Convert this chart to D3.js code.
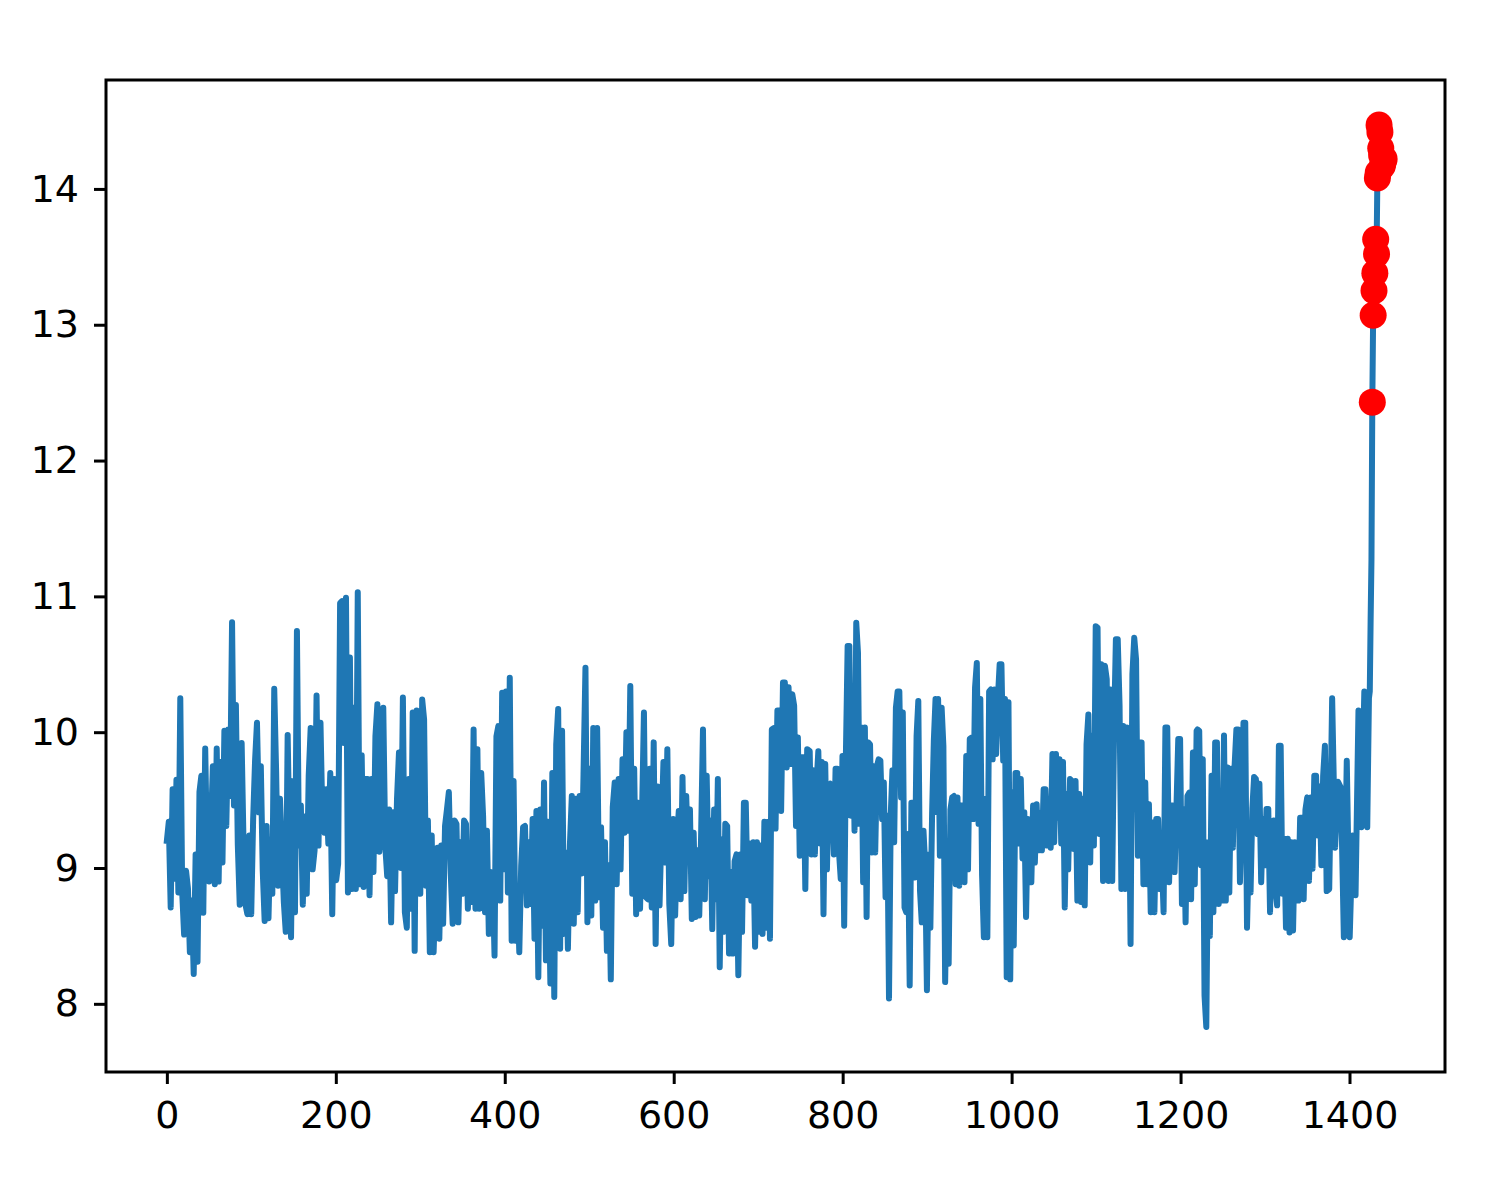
<!DOCTYPE html>
<html>
<head>
<meta charset="utf-8">
<script src="https://cdn.jsdelivr.net/npm/d3@7"></script>
<style>
  body { margin: 0; background: #fff; }
  text { font-family: "DejaVu Sans", sans-serif; }
</style>
</head>
<body>
<svg id="chart" width="1501" height="1180"></svg>
<script>
// values, block by block (each block spread over its time span)
const segA = [9.2, 9.34, 8.71, 9.58, 8.92, 9.65, 8.82, 10.25, 8.82, 8.51, 8.98, 8.85, 8.38, 8.76, 8.22, 9.1, 8.31, 9.56, 9.68, 8.67, 9.88, 9.07, 8.9, 9.31, 9.75, 8.88, 9.88, 8.9, 9.78, 9.04, 10.01, 9.31, 10.02, 9.53, 10.81, 9.46, 10.2, 9.17, 8.73, 9.92, 9.17, 8.73, 8.66, 9.24, 8.66, 9.36, 9.79, 10.07, 9.41, 9.75, 8.98, 8.61, 9.31, 8.63, 9.21, 8.81, 10.32, 9.7, 8.87, 9.51, 9.12, 8.75, 8.53, 9.98];
const segB = [8.49, 9.64, 8.675, 10.745, 9.165, 9.46, 8.73, 9.38, 8.81, 9.68, 10.03, 8.99, 9.13, 10.27, 9.165, 10.07, 9.34, 9.26, 9.58, 9.18, 9.7, 8.66, 9.655, 8.91, 9.03, 10.95, 10.965, 9.92, 10.99, 8.82, 10.55, 8.845, 10.18, 8.845, 11.03, 8.88, 9.83, 8.86, 9.655, 9.655, 8.8, 9.655, 8.97, 9.97, 10.205, 9.12, 9.46, 10.18, 9.165, 8.94, 9.43, 8.6, 9.41, 8.83, 9.51, 9.85, 9.0, 10.255, 8.675, 8.56, 9.655, 8.7, 10.145, 8.39, 10.16, 9.36];
const segC = [8.81, 10.24, 10.095, 8.87, 9.35, 8.38, 9.24, 8.38, 8.82, 9.15, 8.48, 9.165, 8.59, 9.31, 9.43, 9.56, 8.96, 8.59, 9.35, 9.325, 8.6, 9.19, 8.81, 9.35, 9.325, 8.7, 9.18, 8.75, 10.02, 8.7, 9.875, 8.7, 9.7, 9.38, 8.675, 9.275, 8.515, 8.97, 8.94, 8.355, 9.97, 10.045, 8.76, 10.29, 8.99, 10.3, 8.82, 10.4, 8.465, 9.64, 8.465, 8.87, 8.38, 9.02, 9.3, 9.31, 8.725, 9.19, 8.735, 9.36, 8.48, 9.42, 8.195, 9.43, 8.575, 9.63, 8.32, 9.34];
const segD = [8.15, 9.7, 8.05, 9.91, 10.17, 8.405, 10.01, 8.515, 9.115, 8.405, 9.165, 9.53, 8.59, 9.51, 8.675, 9.53, 8.96, 9.69, 10.475, 8.6, 9.73, 8.65, 10.03, 8.76, 10.03, 8.785, 9.3, 8.56, 9.19, 8.39, 9.02, 8.18, 9.45, 9.63, 8.88, 9.655, 8.99, 9.8, 9.26, 10.0, 9.275, 10.34, 8.81, 9.73, 8.66, 9.48, 8.7, 9.38, 10.145, 8.785, 8.77, 9.73, 8.71, 9.925, 8.44, 9.6, 8.725, 9.29, 9.78, 9.04, 9.875, 8.735, 8.44, 9.36, 8.65, 9.21];
const segE = [9.42, 8.77, 9.67, 8.83, 9.53, 9.09, 9.43, 8.625, 9.26, 8.64, 9.13, 8.65, 9.24, 10.02, 8.77, 9.68, 8.94, 9.35, 8.55, 9.43, 8.77, 9.655, 8.27, 9.21, 8.53, 9.325, 9.31, 8.37, 8.97, 8.37, 9.05, 9.1, 8.21, 9.1, 8.53, 9.48, 9.48, 8.8, 9.18, 8.76, 9.19, 8.42, 9.19, 8.53, 9.165, 8.515, 9.34, 8.56, 9.34, 8.48, 10.02, 10.03, 9.29, 10.16, 10.16, 9.42, 10.365, 10.365, 9.74, 10.33, 9.765, 10.28, 10.195, 9.31, 9.96, 9.09, 9.815, 9.815, 8.845, 9.875];
const segF = [9.86, 9.1, 9.72, 9.1, 9.63, 9.86, 9.18, 9.78, 8.66, 9.765, 8.99, 9.605, 9.62, 9.53, 9.1, 9.73, 9.73, 9.115, 8.92, 9.825, 8.575, 9.84, 10.635, 10.635, 9.385, 10.12, 9.275, 10.805, 10.585, 9.325, 10.035, 8.895, 10.035, 8.64, 9.925, 9.91, 9.115, 9.75, 9.115, 9.75, 9.8, 9.79, 9.36, 9.63, 8.785, 9.385, 8.04, 9.385, 9.72, 9.19, 10.18, 10.3, 10.3, 9.52, 10.145, 8.71, 8.675, 9.25, 8.135, 9.48, 9.48, 8.93, 9.97, 10.23, 8.83, 8.6, 9.275, 9.02, 8.1, 9.1, 8.56, 9.4, 9.935, 10.245, 9.41];
const segG = [10.245, 9.09, 10.18, 9.9, 8.16, 9.05, 8.295, 9.43, 9.52, 9.53, 8.88, 9.52, 8.87, 9.46, 9.46, 8.895, 9.825, 8.99, 9.95, 9.96, 9.36, 10.33, 10.51, 9.325, 10.245, 8.945, 8.49, 9.51, 8.49, 10.3, 10.315, 9.8, 10.315, 9.84, 10.255, 10.5, 10.5, 9.79, 10.245, 8.195, 10.22, 8.18, 9.56, 8.43, 9.7, 9.7, 9.18, 9.655, 9.07, 9.41, 8.64, 9.36, 9.2, 8.895, 9.46, 9.04, 9.47, 9.13, 9.4, 9.13, 9.58, 9.58, 9.165, 9.48, 9.15, 9.84, 9.19, 9.84, 9.37, 9.8, 9.18, 9.78, 8.71, 9.545];
const segH = [8.99, 9.655, 9.64, 9.14, 9.64, 8.76, 9.545, 8.75, 9.51, 8.725, 9.91, 10.13, 9.04, 9.975, 9.165, 10.78, 10.77, 9.25, 10.5, 8.905, 10.49, 10.39, 8.905, 10.315, 8.905, 10.02, 10.685, 10.685, 10.195, 8.845, 10.045, 8.845, 10.035, 9.875, 8.44, 10.425, 10.695, 10.535, 9.09, 9.925, 9.925, 8.88, 9.63, 8.88, 9.47, 8.675, 9.335, 8.675, 9.36, 9.36, 8.845, 9.09, 8.675, 10.035, 10.035, 8.895, 9.46, 9.46, 8.97, 9.435, 9.95, 9.95, 8.735, 9.435, 8.6, 9.53, 9.555, 8.77, 9.85, 8.88, 10.01];
const segI = [10.02, 10.01, 9.02, 9.8, 8.06, 7.83, 9.19, 8.5, 9.68, 8.675, 9.925, 9.925, 8.735, 9.225, 8.76, 9.975, 8.76, 9.74, 8.82, 9.73, 9.15, 9.755, 10.02, 10.02, 8.895, 9.385, 10.07, 10.07, 8.56, 9.13, 8.82, 9.435, 9.67, 9.655, 9.25, 9.62, 8.895, 9.36, 9.02, 9.435, 9.435, 8.675, 9.31, 9.35, 8.845, 8.725, 9.9, 9.9, 8.81, 9.215, 8.56, 9.215, 8.525, 9.19, 8.54, 9.19, 9.065, 8.76, 9.37, 9.37, 8.77, 9.43, 9.52, 8.905, 9.52, 8.995, 9.68, 9.68, 9.24, 9.6, 9.02, 9.68, 9.9, 8.83];
const segJ = [8.845, 10.25, 9.15, 9.635, 9.59, 8.49, 9.79, 8.49, 9.24, 8.8, 10.16, 9.3, 10.3, 9.3];
// time span [start, end] of each block above
const segSpans = [[0, 143], [147, 298], [300, 451], [454, 604], [606, 758], [761, 912], [913, 1065], [1067, 1219], [1220, 1373], [1376, 1421]];
// last points, one per time step, starting at t = 1423
const tailStart = 1423;
const tail = [10.25, 10.3, 10.82, 11.27, 12.43, 13.07, 13.25, 13.38, 13.63, 13.52, 14.08, 14.12, 14.47, 14.42, 14.3, 14.25, 14.17, 14.2, 14.22];
// time steps flagged as anomalies (red dots)
const anomalyT = [1427, 1428, 1429, 1430, 1431, 1432, 1433, 1434, 1435, 1436, 1437, 1438, 1439, 1440, 1441];

const xTicks = [0, 200, 400, 600, 800, 1000, 1200, 1400];
const yTicks = [8, 9, 10, 11, 12, 13, 14];

const svg = d3.select('#chart');
const plotL = 106, plotR = 1445, plotT = 80, plotB = 1072;

const blocks = [segA, segB, segC, segD, segE, segF, segG, segH, segI, segJ];
let series = [];
blocks.forEach((vals, k) => {
    const [t0, t1] = segSpans[k];
    vals.forEach((v, i) => {
        series.push({t: t0 + (t1 - t0) * i / (vals.length - 1), v: v});
    });
});
tail.forEach((v, i) => series.push({t: tailStart + i, v: v}));

const anomalies = series.filter(d => anomalyT.includes(d.t));

// matplotlib style 5% margins
const tMax = d3.max(series, d => d.t);
const vMin = d3.min(series, d => d.v), vMax = d3.max(series, d => d.v);
const x = d3.scaleLinear()
    .domain([-0.05 * tMax, 1.05 * tMax])
    .range([plotL, plotR]);
const y = d3.scaleLinear()
    .domain([vMin - 0.05 * (vMax - vMin), vMax + 0.05 * (vMax - vMin)])
    .range([plotB, plotT]);

const line = d3.line()
    .x(d => x(d.t))
    .y(d => y(d.v));

svg.append('path')
    .datum(series)
    .attr('d', line)
    .attr('fill', 'none')
    .attr('stroke', '#1f77b4')
    .attr('stroke-width', 6)
    .attr('stroke-linejoin', 'round')
    .attr('stroke-linecap', 'square');

svg.append('g')
    .selectAll('circle')
    .data(anomalies)
    .join('circle')
    .attr('cx', d => x(d.t))
    .attr('cy', d => y(d.v))
    .attr('r', 13.5)
    .attr('fill', 'red');

// axes
const xAxis = svg.append('g')
    .attr('transform', `translate(0,${plotB})`)
    .call(d3.axisBottom(x).tickValues(xTicks).tickSize(12).tickPadding(17).tickFormat(d3.format('d')));
const yAxis = svg.append('g')
    .attr('transform', `translate(${plotL},0)`)
    .call(d3.axisLeft(y).tickValues(yTicks).tickSize(12).tickPadding(15).tickFormat(d3.format('d')));

[xAxis, yAxis].forEach(g => {
    g.select('.domain').remove();
    g.selectAll('.tick line').attr('stroke', '#000').attr('stroke-width', 3);
    g.selectAll('.tick text')
        .attr('fill', '#000')
        .style('font-family', '"DejaVu Sans", sans-serif')
        .style('font-size', '38px');
});

svg.append('rect')
    .attr('x', plotL)
    .attr('y', plotT)
    .attr('width', plotR - plotL)
    .attr('height', plotB - plotT)
    .attr('fill', 'none')
    .attr('stroke', '#000')
    .attr('stroke-width', 3);
</script>
</body>
</html>
